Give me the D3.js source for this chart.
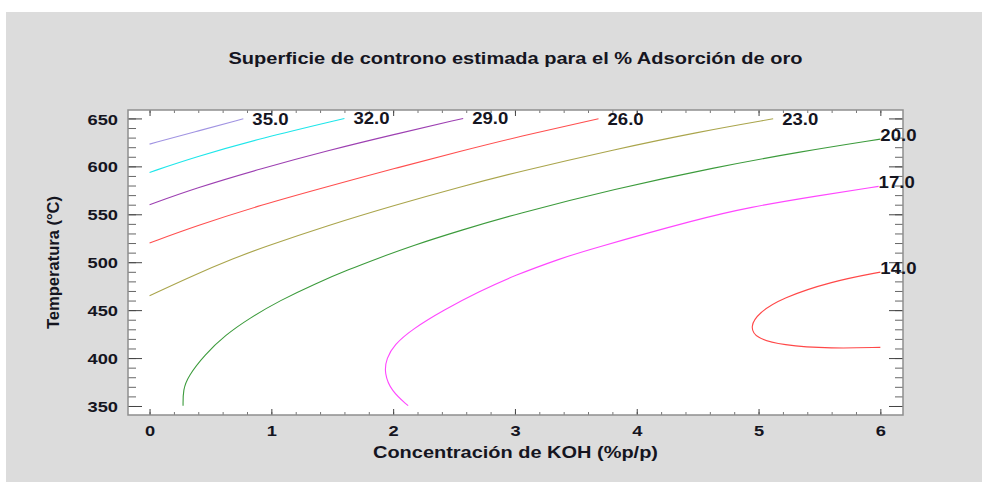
<!DOCTYPE html>
<html>
<head>
<meta charset="utf-8">
<script src="https://cdn.jsdelivr.net/npm/d3@7"></script>
<style>
  body { margin: 0; background: #fff; }
  text { font-family: "Liberation Sans", Arial, sans-serif; font-weight: bold; fill: #15151f; }
</style>
</head>
<body>
<svg id="chart" width="989" height="491"></svg>
<script>
// contour levels and their traced lines, as [KOH %p/p, temperature °C]
const levels = ["35.0", "32.0", "29.0", "26.0", "23.0", "20.0", "17.0", "14.0"];
const levelColors = ["#a194e2", "#1ee6ea", "#9d40b2", "#ff4f4f", "#aaa54c", "#3c9b3c", "#ff47ff", "#ff4848"];

const c35 = [[0.0, 623.2], [0.37, 636], [0.77, 649.6]];
const c32 = [[0.0, 593.7], [0.37, 609.6], [0.92, 629.5], [1.60, 650]];
const c29 = [[0.0, 559.9], [0.37, 577], [0.92, 597.8], [1.466, 616.6], [2.01, 633.4], [2.575, 650]];
const c26 = [[0.0, 520], [0.37, 537.4], [0.92, 559.9], [1.466, 579.1], [2.01, 597.8], [2.56, 616], [3.03, 631], [3.686, 649.6]];
const c23 = [[0.0, 465], [0.37, 486.9], [0.70, 504.4], [0.92, 515], [1.466, 538.5], [2.01, 559.4], [2.56, 578.9], [3.03, 594.4], [3.82, 617.7], [4.51, 636], [5.12, 649.6]];
const c20 = [[0.275, 350.3], [0.275, 367], [0.316, 381], [0.453, 403.5], [0.618, 423.7], [0.825, 442], [1.07, 460], [1.357, 477.5], [1.644, 492.8], [1.863, 503.5], [2.15, 517], [2.56, 533.5], [3.0, 550], [3.82, 576.5], [4.645, 599], [5.33, 615], [6.0, 628.4]];
const c17 = [[2.123, 350.3], [1.986, 365.3], [1.926, 384.4], [1.945, 400], [2.01, 413.9], [2.15, 429.6], [2.42, 450.5], [2.70, 469], [3.0, 486.5], [3.386, 504.3], [3.59, 512.6], [4.52, 545.7], [4.92, 557.2], [5.466, 569], [5.986, 579.1]];
const c14 = [[6.0, 411.2], [5.60, 409.8], [5.19, 413.3], [4.975, 420.9], [4.93, 433.1], [5.0, 447], [5.19, 462.6], [5.60, 480], [6.0, 489.7]];
const contours = [c35, c32, c29, c26, c23, c20, c17, c14];

const xTicks = [0, 1, 2, 3, 4, 5, 6];
const yTicks = [350, 400, 450, 500, 550, 600, 650];

const titleText = "Superficie de controno estimada para el % Adsorción de oro";
const xLabel = "Concentración de KOH (%p/p)";
const yLabel = "Temperatura (°C)";

const svg = d3.select("#chart");
const plot = { left: 128, right: 903, top: 110, bottom: 415 };

// the source image is a bit wider than it is tall, so text is stretched sideways
function stretch(sel, k) {
  sel.each(function () {
    const len = this.getComputedTextLength();
    d3.select(this).attr("textLength", len * k).attr("lengthAdjust", "spacingAndGlyphs");
  });
}

svg.append("rect")
  .attr("x", 6).attr("y", 12)
  .attr("width", 976).attr("height", 470)
  .attr("fill", "#dcdcdc");

svg.append("rect")
  .attr("x", plot.left).attr("y", plot.top)
  .attr("width", plot.right - plot.left).attr("height", plot.bottom - plot.top)
  .attr("fill", "#fff");

const x = d3.scaleLinear().domain([-0.177, 6.186]).range([plot.left, plot.right]);
const y = d3.scaleLinear().domain([340.6, 658.8]).range([plot.bottom, plot.top]);

svg.append("clipPath").attr("id", "clip")
  .append("rect")
  .attr("x", plot.left).attr("y", plot.top)
  .attr("width", plot.right - plot.left).attr("height", plot.bottom - plot.top);

// minor and major ticks, all pointing into the plot
const xMinor = d3.range(0, 6.01, 0.2);
const yMinor = d3.range(350, 651, 10);

function tickAxis(axis, pos, color) {
  const g = svg.append("g").attr("transform", pos).call(axis);
  g.select(".domain").remove();
  g.selectAll(".tick line").attr("stroke", color);
  return g;
}

tickAxis(d3.axisBottom(x).tickValues(xMinor).tickSize(-3).tickFormat(""), `translate(0,${plot.bottom})`, "#777");
tickAxis(d3.axisTop(x).tickValues(xMinor).tickSize(-3).tickFormat(""), `translate(0,${plot.top})`, "#777");
tickAxis(d3.axisLeft(y).tickValues(yMinor).tickSize(-8).tickFormat(""), `translate(${plot.left},0)`, "#666");
tickAxis(d3.axisRight(y).tickValues(yMinor).tickSize(-8).tickFormat(""), `translate(${plot.right},0)`, "#666");

tickAxis(d3.axisTop(x).tickValues(xTicks).tickSize(-6).tickFormat(""), `translate(0,${plot.top})`, "#444");
tickAxis(d3.axisRight(y).tickValues(yTicks).tickSize(-14).tickFormat(""), `translate(${plot.right},0)`, "#444");

const xAxis = tickAxis(d3.axisBottom(x).tickValues(xTicks).tickFormat(d3.format("d"))
  .tickSizeInner(-6).tickSizeOuter(0).tickPadding(10),
  `translate(0,${plot.bottom})`, "#444");
xAxis.selectAll("text").attr("font-size", "15.5px").attr("fill", "#15151f");
stretch(xAxis.selectAll("text"), 1.18);

const yAxis = tickAxis(d3.axisLeft(y).tickValues(yTicks).tickFormat(d3.format("d"))
  .tickSizeInner(-14).tickSizeOuter(0).tickPadding(10),
  `translate(${plot.left},0)`, "#444");
yAxis.selectAll("text").attr("font-size", "15.5px").attr("fill", "#15151f").attr("dy", "0.36em");
stretch(yAxis.selectAll("text"), 1.18);

// contour lines, smoothed through the traced points
const line = d3.line()
  .x(d => x(d[0]))
  .y(d => y(d[1]))
  .curve(d3.curveBasis);

svg.append("g").attr("clip-path", "url(#clip)")
  .selectAll("path")
  .data(contours)
  .join("path")
  .attr("d", line)
  .attr("fill", "none")
  .attr("stroke", (d, i) => levelColors[i])
  .attr("stroke-width", 1.1);

// frame
svg.append("rect")
  .attr("x", plot.left).attr("y", plot.top)
  .attr("width", plot.right - plot.left).attr("height", plot.bottom - plot.top)
  .attr("fill", "none")
  .attr("stroke", "#8e8e8e")
  .attr("stroke-width", 1.5);

// contour labels at the end of each line
const labels = svg.append("g")
  .selectAll("text")
  .data(contours)
  .join("text")
  .attr("font-size", "16px")
  .text((d, i) => levels[i])
  .each(function (d) {
    const end = d[d.length - 1];
    const atTop = end[1] > 645;
    d3.select(this)
      .attr("x", x(end[0]) + (atTop ? 9 : 0))
      .attr("y", y(end[1]) + (atTop ? 0 : -4))
      .attr("dy", "0.36em");
  });
stretch(labels, 1.16);

svg.append("text")
  .attr("x", (plot.left + plot.right) / 2)
  .attr("y", 64)
  .attr("text-anchor", "middle")
  .attr("font-size", "17px")
  .text(titleText)
  .call(s => s.attr("textLength", 574).attr("lengthAdjust", "spacingAndGlyphs"));

svg.append("text")
  .attr("x", (plot.left + plot.right) / 2)
  .attr("y", 458)
  .attr("text-anchor", "middle")
  .attr("font-size", "16.3px")
  .text(xLabel)
  .call(s => s.attr("textLength", 285).attr("lengthAdjust", "spacingAndGlyphs"));

svg.append("text")
  .attr("transform", `translate(59,${(plot.top + plot.bottom) / 2}) rotate(-90)`)
  .attr("text-anchor", "middle")
  .attr("font-size", "16.3px")
  .text(yLabel)
  .call(s => s.attr("textLength", 133).attr("lengthAdjust", "spacingAndGlyphs"));
</script>
</body>
</html>
